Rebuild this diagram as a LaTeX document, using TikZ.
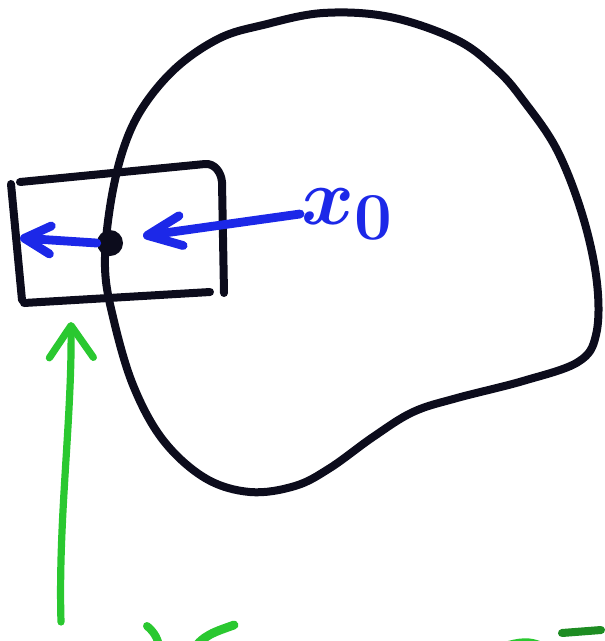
\documentclass[tikz,border=0pt]{standalone}
\usepackage{amsmath, amssymb}
\usepackage{graphicx}
\usepackage{xcolor}
\usepackage{tikz}
\usetikzlibrary{arrows.meta}

\definecolor{penblack}{RGB}{12,12,28}
\definecolor{penblue}{RGB}{28,40,232}
\definecolor{pengreen}{RGB}{42,200,48}

\tikzset{
  ink/.style={line width=0.2cm, penblack, line cap=round, line join=round},
  bluepen/.style={line width=0.22cm, penblue, line cap=round,
    -{Straight Barb[length=0.85cm, width=0.75cm, round]}},
  greenpen/.style={line width=0.18cm, pengreen, line cap=round},
}

\begin{document}
\begin{tikzpicture}[x=0.025cm, y=-0.025cm]
    \useasboundingbox (0,0) rectangle (605,641);

    % Region (closed blob)
    \draw[ink] plot[smooth cycle, tension=0.6] coordinates {
        (263,25) (323,13) (390,17) (457,40) (497,70) (523,100)
        (557,150) (583,217) (597,283) (596,335) (578,362) (523,381)
        (457,398) (413,412) (373,437) (330,468) (295,486) (250,492)
        (205,478) (163,440) (133,385) (113,317) (105,267) (110,207)
        (123,150) (143,107) (177,67) (220,38)};

    % Small box around the boundary point
    \draw[ink] (20,182) -- (205,164) to[out=5, in=95] (222,182) -- (224,293);
    \draw[ink] (24,303) -- (210,292);
    \draw[ink] (11,184) -- (22,300);

    % Boundary point and label
    \node[circle, fill=penblack, inner sep=0pt, minimum size=0.65cm] (dot) at (110,243) {};
    \node[penblue, font=\Huge\boldmath, anchor=west, inner sep=1pt] (xo) at (300,214) {\scalebox{2.3}{$x_0$}};

    % Blue arrows
    \coordinate (tipin) at (143,236);
    \coordinate (tipout) at (20,238);
    \draw[bluepen] (xo.west) -- (tipin);
    \draw[bluepen, -{Straight Barb[length=0.65cm, width=0.7cm, round]}] (dot.west) -- (tipout);

    % Green arrow from below
    \coordinate (gbot) at (61,622);
    \coordinate (gtop) at (71,322);
    \draw[greenpen, -{Straight Barb[length=0.8cm, width=1.1cm, round]}]
        (gbot) .. controls (58,520) and (72,420) .. (gtop);

    % Cut-off green writing at the bottom edge
    \draw[greenpen, line width=0.2cm] (147,626) to[out=-40, in=100] (160,650);
    \draw[greenpen, line width=0.22cm] (234,625) to[out=200, in=60] (192,652);
    \draw[greenpen, pengreen!60!black, line width=0.2cm] (311,645) -- (326,653);
    \draw[greenpen, line width=0.22cm] (490,649) to[out=5, in=160] (538,645) -- (545,652);
    \draw[greenpen, pengreen!70!black, line width=0.2cm] (562,633) -- (601,630);
\end{tikzpicture}
\end{document}
